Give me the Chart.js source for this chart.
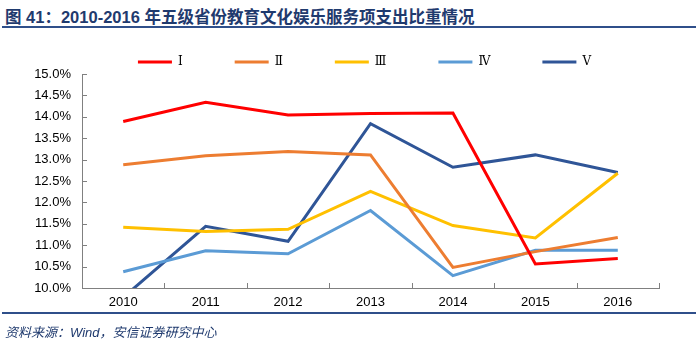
<!DOCTYPE html>
<html>
<head>
<meta charset="utf-8">
<script src="https://cdn.jsdelivr.net/npm/chart.js"></script>
<style>
    body { margin: 0; width: 700px; height: 341px; background: #fff; position: relative; overflow: hidden; }
    #title {
        position: absolute; left: 5px; top: 4px;
        font: bold 16.5px "Liberation Sans", "Noto Sans CJK SC", sans-serif;
        color: #1f3a6e; white-space: nowrap;
    }
    #title-rule { position: absolute; left: 2px; right: 4px; top: 26px; height: 2px; background: #2f4f8a; }
    #foot-rule { position: absolute; left: 2px; right: 4px; top: 312px; height: 2px; background: #2f4f8a; }
    #source {
        position: absolute; left: 5px; top: 322px;
        font: italic 13px "Liberation Sans", "Noto Sans CJK SC", sans-serif;
        color: #1f3a6e; white-space: nowrap;
    }
    #wrap { position: absolute; left: 0; top: 0; width: 700px; height: 341px; }
</style>
</head>
<body>
<div id="title">图 41：2010-2016 年五级省份教育文化娱乐服务项支出比重情况</div>
<div id="title-rule"></div>
<div id="wrap"><canvas id="chart"></canvas></div>
<div id="foot-rule"></div>
<div id="source">资料来源：Wind，安信证券研究中心</div>
<script>
// years on the x axis
const years = ['2010', '2011', '2012', '2013', '2014', '2015', '2016'];

// share of spending (%) by province tier
const tier1 = [13.89, 14.34, 14.04, 14.08, 14.09, 10.56, 10.69];
const tier2 = [12.88, 13.09, 13.19, 13.11, 10.48, 10.85, 11.18];
const tier3 = [11.42, 11.32, 11.37, 12.26, 11.46, 11.17, 12.68];
const tier4 = [10.38, 10.87, 10.80, 11.81, 10.29, 10.88, 10.88];
const tier5 = [9.78, 11.44, 11.09, 13.84, 12.82, 13.11, 12.70];

const seriesNames = ['Ⅰ', 'Ⅱ', 'Ⅲ', 'Ⅳ', 'Ⅴ'];
const seriesColors = ['#ff0000', '#ed7d31', '#ffc000', '#5b9bd5', '#2f5597'];

const axisColor = '#808080';

// small tick marks that point into the plot, like the original
const innerTicks = {
    id: 'innerTicks',
    afterDraw(chart) {
        const ctx = chart.ctx;
        const x = chart.scales.x;
        const y = chart.scales.y;
        const area = chart.chartArea;
        ctx.save();
        ctx.strokeStyle = axisColor;
        ctx.lineWidth = 1;
        ctx.beginPath();
        y.ticks.forEach((t, i) => {
            const py = Math.round(y.getPixelForTick(i)) + 0.5;
            ctx.moveTo(area.left, py);
            ctx.lineTo(area.left + 5, py);
        });
        for (let i = 0; i < years.length; i++) {
            const next = i < years.length - 1 ? x.getPixelForTick(i + 1) : null;
            const px = next === null ? area.right : (x.getPixelForTick(i) + next) / 2;
            const rx = Math.round(px) + 0.5;
            ctx.moveTo(rx, area.bottom);
            ctx.lineTo(rx, area.bottom - 5);
        }
        ctx.stroke();
        ctx.restore();
    }
};

// the original legend sits a bit right of and below where Chart.js centres it
const nudgeLegend = {
    id: 'nudgeLegend',
    afterLayout(chart) {
        const lg = chart.legend;
        lg.left += 35;
        lg.right += 35;
        lg.top += 4;
        lg.bottom += 4;
    }
};

function buildDatasets() {
    return [tier1, tier2, tier3, tier4, tier5].map((values, i) => ({
        label: seriesNames[i],
        data: values,
        borderColor: seriesColors[i],
        backgroundColor: seriesColors[i],
        borderWidth: 3,
        pointRadius: 0,
        tension: 0,
        fill: false
    }));
}

new Chart(document.getElementById('chart'), {
    type: 'line',
    data: { labels: years, datasets: buildDatasets() },
    options: {
        responsive: true,
        maintainAspectRatio: false,
        animation: false,
        layout: { padding: { left: 0, right: 41, top: 0, bottom: 0 } },
        plugins: {
            legend: {
                position: 'top',
                labels: {
                    boxWidth: 34,
                    boxHeight: 3,
                    padding: 52,
                    color: '#000',
                    font: { family: '"DejaVu Serif", "Noto Sans CJK SC"', size: 12 },
                    generateLabels(chart) {
                        return Chart.defaults.plugins.legend.labels.generateLabels(chart)
                            .map(l => ({ ...l, lineWidth: 0 }));
                    }
                }
            },
            tooltip: { enabled: false }
        },
        scales: {
            x: {
                offset: true,
                grid: { display: false, drawTicks: false },
                border: { display: true, color: axisColor, width: 1 },
                ticks: {
                    color: '#000',
                    padding: 7,
                    maxRotation: 0,
                    autoSkip: false,
                    font: { family: '"Liberation Sans", Arial', size: 13 }
                },
                afterFit(scale) { scale.height = 53; }
            },
            y: {
                min: 10,
                max: 15,
                grid: { display: false, drawTicks: false },
                border: { display: true, color: axisColor, width: 1 },
                ticks: {
                    stepSize: 0.5,
                    autoSkip: false,
                    color: '#000',
                    padding: 11,
                    font: { family: '"Liberation Sans", Arial', size: 13 },
                    callback: v => v.toFixed(1) + '%'
                },
                afterFit(scale) { scale.width = 82; }
            }
        }
    },
    plugins: [innerTicks, nudgeLegend]
});
</script>
</body>
</html>
